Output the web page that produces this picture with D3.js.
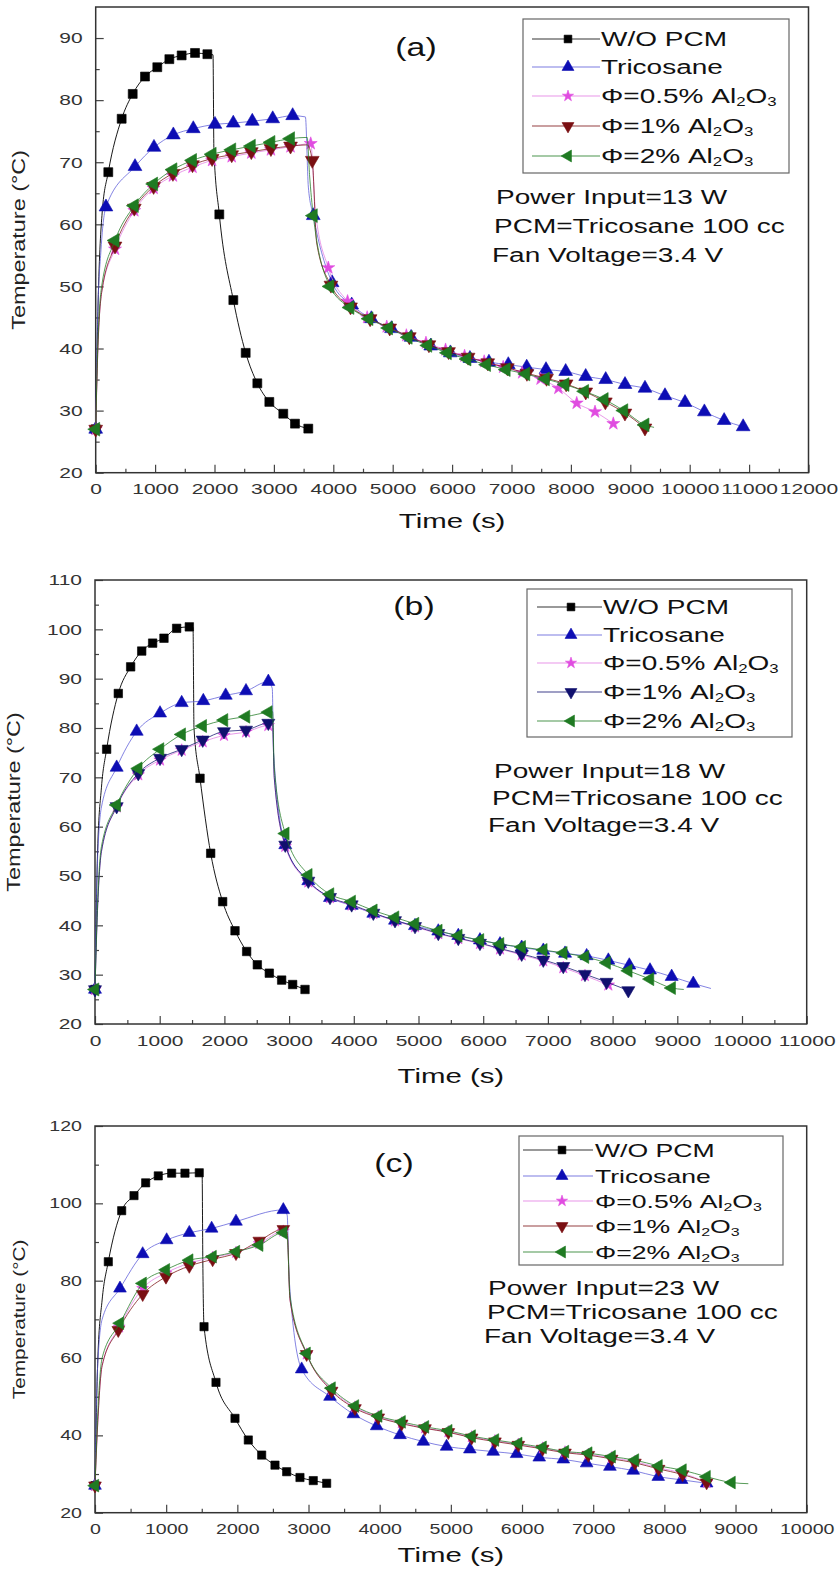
<!DOCTYPE html>
<html>
<head>
<meta charset="utf-8">
<title>Temperature vs time</title>
<script src="https://d3js.org/d3.v7.min.js"></script>
<style>
  body { margin: 0; background: #fff; }
  svg { display: block; }
  text { font-family: "Liberation Sans", Arial, Helvetica, sans-serif; }
</style>
</head>
<body>
<svg id="chart" width="840" height="1590"></svg>
<script>
// series names (legend)
var seriesNames = ["W/O PCM", "Tricosane", "Φ=0.5% Al2O3", "Φ=1% Al2O3", "Φ=2% Al2O3"];
var noteLines = ["Power Input=%W W", "PCM=Tricosane 100 cc", "Fan Voltage=3.4 V"];

// [time (s), temperature (C)] ; a third value 0 = line passes there, no symbol
// ---- (a) 13 W
var aNoPcm = [[0,27],[40,47,0],[110,62,0],[212,68.4],[437,77],[623,81],[830,83.8],[1037,85.3],[1240,86.6],[1447,87.2],[1672,87.6],[1880,87.4],[1975,87.3,0],[1990,72,0],[2081,61.6],[2317,47.8],[2525,39.3],[2721,34.4],[2923,31.4],[3158,29.5],[3355,27.9],[3579,27.1]];
var aTricosane = [[0,27],[30,44,0],[90,56,0],[173,62.8],[662,69.3],[981,72.4],[1307,74.4],[1643,75.4],[2008,76.1],[2316,76.3],[2636,76.6],[2980,77.0],[3316,77.5],[3530,77.3,0],[3580,66,0],[3663,61.4],[3980,50.6],[4310,47],[4640,44.8],[4980,43.2],[5310,41.8],[5640,40.4],[5970,39.3],[6300,38.4],[6620,37.8],[6946,37.4],[7256,37],[7581,36.6],[7912,36.3],[8249,35.5],[8586,35],[8911,34.2],[9247,33.6],[9584,32.4],[9921,31.3],[10247,29.8],[10580,28.4],[10900,27.4]];
var aPhi05 = [[0,27],[30,38,0],[100,49,0],[325,56],[650,62.2],[975,65.8],[1300,67.8],[1630,69.2],[1960,70.3],[2290,70.9],[2620,71.5],[2950,72],[3280,72.5],[3620,73],[3700,62,0],[3916,53],[4240,47.6],[4570,45],[4900,43.5],[5230,42.1],[5560,40.9],[5890,39.8],[6210,38.8],[6540,37.9],[6860,37],[7180,36.1],[7490,35.1],[7790,33.6],[8098,31.2],[8406,29.8],[8714,27.9]];
var aPhi1 = [[0,27],[30,38,0],[100,49,0],[325,56.5],[650,62.6],[975,66.1],[1300,68.2],[1630,69.6],[1960,70.6],[2290,71.2],[2620,71.7],[2950,72.2],[3280,72.6],[3560,72.8,0],[3646,70.3],[3720,57,0],[3960,50.2],[4290,46.7],[4620,44.8],[4950,43.3],[5280,41.9],[5610,40.6],[5940,39.5],[6270,38.6],[6600,37.7],[6930,36.9],[7260,36],[7590,35.2],[7920,34.3],[8250,33],[8580,31.4],[8910,29.6],[9247,27.2]];
var aPhi2 = [[0,27],[30,39,0],[100,50,0],[325,57.4],[650,63],[975,66.5],[1300,68.8],[1630,70.3],[1960,71.3],[2290,72],[2620,72.6],[2950,73.2],[3280,73.8],[3560,74,0],[3600,68,0],[3663,61.4],[3944,50],[4280,46.6],[4600,44.8],[4930,43.3],[5260,41.8],[5590,40.5],[5920,39.3],[6250,38.3],[6580,37.4],[6910,36.6],[7240,35.9],[7570,35.1],[7900,34.2],[8230,33.1],[8560,31.8],[8890,30],[9247,27.7],[9400,27.3,0]];

// ---- (b) 18 W
var bNoPcm = [[0,27],[40,55,0],[100,68,0],[180,75.7],[360,87],[551,92.4],[722,95.6],[891,97.2],[1066,98.2],[1262,100.2],[1458,100.5],[1515,100.4,0],[1530,80,0],[1623,69.8],[1788,54.6],[1973,44.8],[2164,38.9],[2344,34.7],[2509,32],[2694,30.3],[2885,28.9],[3055,28],[3246,27]];
var bTricosane = [[0,27],[30,50,0],[100,64,0],[335,72],[644,79.3],[1005,83],[1340,85.1],[1674,85.5],[2020,86.6],[2334,87.5],[2679,89.4],[2740,88,0],[2760,75,0],[2941,56.3],[3297,49],[3632,45.6],[3967,44],[4302,42.4],[4637,41],[4946,39.9],[5306,38.8],[5615,37.9],[5950,37],[6260,36.2],[6595,35.5],[6929,34.9],[7265,34.3],[7599,33.8],[7934,32.9],[8258,31.9],[8578,30.9],[8913,29.6],[9247,28.2],[9520,27.2,0]];
var bPhi05 = [[0,27],[30,40,0],[100,55,0],[335,64],[669,70.5],[1005,73.5],[1340,75.5],[1665,77.2],[1994,78.5],[2334,79.2],[2679,80.5],[2745,80.5,0],[2770,70,0],[2941,56],[3297,48.8],[3632,45.6],[3967,44.1],[4302,42.4],[4637,40.9],[4946,39.7],[5306,38.3],[5615,37.3],[5950,36.3],[6260,35.2],[6595,34],[6929,32.8],[7238,31.4],[7573,29.8],[7934,27.9]];
var bPhi1 = [[0,27],[30,40,0],[100,55,0],[335,64.1],[669,70.8],[1005,73.9],[1340,75.7],[1665,77.6],[1994,79.3],[2334,79.6],[2679,81],[2745,81,0],[2770,70,0],[2941,56.3],[3297,49],[3632,45.7],[3967,44.2],[4302,42.5],[4637,41],[4946,39.8],[5306,38.4],[5615,37.4],[5950,36.4],[6260,35.3],[6595,34.2],[6929,33],[7238,31.7],[7573,30.1],[7907,28.5],[8243,26.8]];
var bPhi2 = [[0,27],[30,41,0],[100,56,0],[335,64.4],[669,71.8],[1005,75.7],[1340,78.7],[1665,80.4],[1994,81.6],[2334,82.3],[2679,83.2],[2745,83.3,0],[2770,72,0],[2941,58.6],[3297,50.2],[3632,46.3],[3967,44.8],[4302,43],[4637,41.6],[4946,40.3],[5306,38.9],[5615,37.9],[5950,37],[6260,36.2],[6595,35.6],[6929,35],[7238,34.4],[7573,33.6],[7907,32.4],[8243,30.8],[8578,29.1],[8913,27.3],[9100,27,0]];

// ---- (c) 23 W
var cNoPcm = [[0,27],[40,60,0],[100,75,0],[187,84.9],[375,98.1],[548,102],[712,105.3],[889,107.1],[1077,107.8],[1264,107.8],[1465,107.9],[1505,107.8,0],[1515,85,0],[1532,68.1],[1700,53.7],[1967,44.4],[2154,38.8],[2342,34.9],[2529,32.3],[2693,30.6],[2880,29.1],[3067,28.3],[3255,27.6]];
var cTricosane = [[0,27],[30,55,0],[100,70,0],[351,78],[670,86.9],[1007,90.5],[1325,92.4],[1639,93.5],[1981,95.3],[2646,98.3],[2700,97,0],[2730,80,0],[2904,57.1],[3302,50],[3630,45.5],[3958,42.4],[4286,40.1],[4613,38.4],[4940,37.1],[5267,36.4],[5595,35.8],[5924,35.2],[6242,34.3],[6580,33.8],[6908,32.8],[7235,31.9],[7563,30.9],[7914,29.3],[8243,28.5],[8594,27.6]];
var cPhi05 = [[0,27],[30,40,0],[100,58,0],[340,68],[670,78],[997,82],[1325,84.5],[1653,86],[1981,87.3],[2308,89.6],[2646,92.8],[2700,92,0],[2740,75,0],[2974,61],[3325,51.8],[3653,47.3],[3980,44.8],[4309,43.2],[4637,41.9],[4965,40.9],[5293,39.6],[5620,38.6],[5948,37.7],[6290,36.7],[6604,35.7],[6932,35.1],[7260,34.2],[7587,33.2],[7919,31.6],[8256,30.2],[8594,27.8]];
var cPhi1 = [[0,27],[30,40,0],[100,58,0],[327,67.2],[670,76.5],[997,81],[1325,83.8],[1653,85.5],[1981,87.1],[2308,90.3],[2646,93.3],[2700,92.5,0],[2740,75,0],[2974,61],[3325,51.5],[3653,47],[3980,44.6],[4309,43],[4637,41.8],[4965,40.8],[5293,39.4],[5620,38.4],[5948,37.5],[6290,36.5],[6604,35.5],[6932,34.9],[7260,33.9],[7587,32.9],[7919,31.3],[8256,29.9],[8594,27.8]];
var cPhi2 = [[0,27],[30,42,0],[100,60,0],[351,69],[670,79.3],[997,82.8],[1325,85.3],[1653,86.2],[1981,87.5],[2308,89.2],[2646,92.4],[2700,91.5,0],[2740,76,0],[2974,61.2],[3325,52.2],[3653,47.6],[3980,45],[4309,43.5],[4637,42.2],[4965,41.2],[5293,39.8],[5620,38.8],[5948,37.9],[6290,36.9],[6604,35.8],[6932,35.4],[7260,34.5],[7587,33.6],[7919,32.1],[8256,31],[8594,29.3],[8945,27.8],[9180,27.5,0]];

// axis settings
var powerInputs = [13, 18, 23];
var panelTags = ["(a)", "(b)", "(c)"];
var xMaxes = [12000, 11000, 10000];
var yRanges = [[20, 95], [20, 110], [20, 120]];
var yMajorSteps = [10, 10, 20];

var FONT = "'Liberation Sans', Arial, Helvetica, sans-serif";
var SX = 1.4; // the figure's lettering is wide

// layout of the three stacked panels (pixels)
var layout = [
  { left: 95.7, right: 808.5, top: 7, bottom: 472.7, tickFont: 15, sym: 1.0,
    tag: [416, 47], yLabel: [19, 18], xLabelY: 528,
    legend: { left: 523, right: 789, top: 19, bottom: 173, rows: [39, 67, 96, 126, 156], l0: 532, l1: 600, mx: 568, tx: 601, font: 20 },
    notes: { x: [496, 494, 492], y: [204, 233, 262] } },
  { left: 95, right: 806.7, top: 580, bottom: 1024, tickFont: 15, sym: 0.9,
    tag: [414, 606], yLabel: [14, 18], xLabelY: 1083,
    legend: { left: 527, right: 792, top: 589, bottom: 737, rows: [607, 635, 663, 692, 721], l0: 537, l1: 602, mx: 571, tx: 603, font: 20 },
    notes: { x: [494, 492, 488], y: [778, 805, 832] } },
  { left: 95, right: 806.7, top: 1126, bottom: 1512.7, tickFont: 14, sym: 0.85,
    tag: [394, 1163], yLabel: [19, 16], xLabelY: 1562,
    legend: { left: 519, right: 783, top: 1136, bottom: 1265, rows: [1150, 1176, 1201, 1226, 1252], l0: 523, l1: 593, mx: 562, tx: 595, font: 19 },
    notes: { x: [488, 487, 484], y: [1295, 1319, 1343] } }
];

var panelData = [
  [aNoPcm, aTricosane, aPhi05, aPhi1, aPhi2],
  [bNoPcm, bTricosane, bPhi05, bPhi1, bPhi2],
  [cNoPcm, cTricosane, cPhi05, cPhi1, cPhi2]
];

// symbol styles per series (index 3 changes colour in panel b)
function seriesStyle(panel, i) {
  var s = [
    { color: "#000000", line: "#000000", shape: "square", size: 80 },
    { color: "#0d0db4", line: "#5a5ad8", shape: "up", size: 82 },
    { color: "#e04ce0", line: "#e27ae2", shape: "star", size: 52 },
    { color: "#7a0f12", line: "#7a0f12", shape: "down", size: 82 },
    { color: "#1f7a22", line: "#1f7a22", shape: "left", size: 82 }
  ][i];
  if (panel === 1 && i === 3) s = { color: "#10106e", line: "#10106e", shape: "down", size: 82 };
  return s;
}

function symPath(shape, size) {
  var type = shape === "square" ? d3.symbolSquare : shape === "star" ? d3.symbolStar : d3.symbolTriangle;
  return d3.symbol(type, size)();
}
function symRot(shape) {
  return shape === "down" ? 180 : shape === "left" ? -90 : 0;
}

// wide text helper
function wideText(parent, x, y, str, size, anchor, sx, rot) {
  var g = parent.append("g")
    .attr("transform", "translate(" + x + "," + y + ")" + (rot ? " rotate(" + rot + ")" : "") + " scale(" + sx + ",1)");
  return g.append("text")
    .attr("text-anchor", anchor)
    .attr("font-size", size)
    .attr("fill", "#111")
    .text(str);
}

function legendLabel(parent, x, y, label, size) {
  var g = parent.append("g").attr("transform", "translate(" + x + "," + y + ") scale(" + SX + ",1)");
  var t = g.append("text").attr("font-size", size).attr("dy", "0.36em").attr("fill", "#111");
  var m = label.match(/^(.*Al)2O3$/);
  if (!m) { t.text(label); return; }
  t.append("tspan").text(m[1]);
  t.append("tspan").attr("font-size", size * 0.6).attr("dy", 3).text("2");
  t.append("tspan").attr("dy", -3).text("O");
  t.append("tspan").attr("font-size", size * 0.6).attr("dy", 3).text("3");
}

var svg = d3.select("#chart");
svg.append("rect").attr("width", 840).attr("height", 1590).attr("fill", "#fff");

function drawPanel(k) {
  var p = layout[k];
  var g = svg.append("g");
  var x = d3.scaleLinear().domain([0, xMaxes[k]]).range([p.left, p.right]);
  var y = d3.scaleLinear().domain(yRanges[k]).range([p.bottom, p.top]);

  var yMin = yRanges[k][0], yMax = yRanges[k][1], st = yMajorSteps[k];
  var yMajor = d3.range(yMin, yMax + 0.1, st);
  var yMinor = d3.range(yMin + st / 2, yMax, st);
  var xMajor = d3.range(0, xMaxes[k] + 1, 1000);
  var xMinor = d3.range(500, xMaxes[k], 1000);

  // minor ticks
  g.append("g").attr("transform", "translate(" + p.left + ",0)")
    .call(d3.axisLeft(y).tickValues(yMinor).tickSizeInner(-4).tickSizeOuter(0).tickFormat(""))
    .call(function (a) { a.select(".domain").remove(); });
  g.append("g").attr("transform", "translate(0," + p.bottom + ")")
    .call(d3.axisBottom(x).tickValues(xMinor).tickSizeInner(-4).tickSizeOuter(0).tickFormat(""))
    .call(function (a) { a.select(".domain").remove(); });

  // major ticks + labels
  var ya = g.append("g").attr("transform", "translate(" + p.left + ",0)")
    .call(d3.axisLeft(y).tickValues(yMajor).tickSizeInner(-8).tickSizeOuter(0).tickFormat(d3.format("d")));
  ya.select(".domain").remove();
  ya.attr("font-family", FONT).attr("font-size", p.tickFont);
  ya.selectAll(".tick text").attr("x", null).attr("fill", "#333")
    .attr("transform", "translate(-13,0) scale(" + SX + ",1)");

  var xa = g.append("g").attr("transform", "translate(0," + p.bottom + ")")
    .call(d3.axisBottom(x).tickValues(xMajor).tickSizeInner(-8).tickSizeOuter(0).tickPadding(11).tickFormat(d3.format("d")));
  xa.select(".domain").remove();
  xa.attr("font-family", FONT).attr("font-size", p.tickFont);
  xa.selectAll(".tick text").attr("fill", "#333").attr("transform", "scale(" + SX + ",1)");
  g.selectAll(".tick line").attr("stroke", "#444").attr("stroke-width", 1.2);

  // frame
  g.append("rect")
    .attr("x", p.left).attr("y", p.top)
    .attr("width", p.right - p.left).attr("height", p.bottom - p.top)
    .attr("fill", "none").attr("stroke", "#333").attr("stroke-width", 1.5);

  // series
  var line = d3.line().x(function (d) { return x(d[0]); }).y(function (d) { return y(d[1]); })
    .curve(d3.curveMonotoneX);
  panelData[k].forEach(function (data, i) {
    var s = seriesStyle(k, i);
    g.append("path").datum(data)
      .attr("d", line).attr("fill", "none")
      .attr("stroke", s.line).attr("stroke-width", 1)
      .attr("stroke-opacity", i === 0 ? 0.9 : 0.75);
    var path = symPath(s.shape, s.size * p.sym);
    g.append("g").selectAll("path")
      .data(data.filter(function (d) { return d.length < 3; }))
      .join("path")
      .attr("d", path)
      .attr("transform", function (d) { return "translate(" + x(d[0]) + "," + y(d[1]) + ") rotate(" + symRot(s.shape) + ")"; })
      .attr("fill", s.color).attr("stroke", s.color).attr("stroke-width", 0.6);
  });

  // legend
  var L = p.legend;
  var lg = g.append("g");
  lg.append("rect").attr("x", L.left).attr("y", L.top)
    .attr("width", L.right - L.left).attr("height", L.bottom - L.top)
    .attr("fill", "#fff").attr("stroke", "#666").attr("stroke-width", 1.2);
  seriesNames.forEach(function (name, i) {
    var s = seriesStyle(k, i);
    var ry = L.rows[i];
    lg.append("line").attr("x1", L.l0).attr("x2", L.l1).attr("y1", ry).attr("y2", ry)
      .attr("stroke", s.line).attr("stroke-width", 1).attr("stroke-opacity", 0.8);
    lg.append("path").attr("d", symPath(s.shape, s.size * 0.75))
      .attr("transform", "translate(" + L.mx + "," + ry + ") rotate(" + symRot(s.shape) + ")")
      .attr("fill", s.color).attr("stroke", s.color).attr("stroke-width", 0.6);
    legendLabel(lg, L.tx, ry, name, L.font);
  });

  // panel tag
  wideText(g, p.tag[0], p.tag[1], panelTags[k], 26, "middle", 1.3).attr("dy", "0.35em");

  // notes
  noteLines.forEach(function (txt, j) {
    wideText(g, p.notes.x[j], p.notes.y[j], txt.replace("%W", powerInputs[k]), 20, "start", SX);
  });

  // axis titles
  wideText(g, (p.left + p.right) / 2, p.xLabelY, "Time (s)", 21, "middle", SX);
  wideText(g, p.yLabel[0], (p.top + p.bottom) / 2, "Temperature (°C)", p.yLabel[1], "middle", 1.3, -90)
    .attr("dy", "0.35em").attr("fill", "#222");
}

[0, 1, 2].forEach(drawPanel);
</script>
</body>
</html>
